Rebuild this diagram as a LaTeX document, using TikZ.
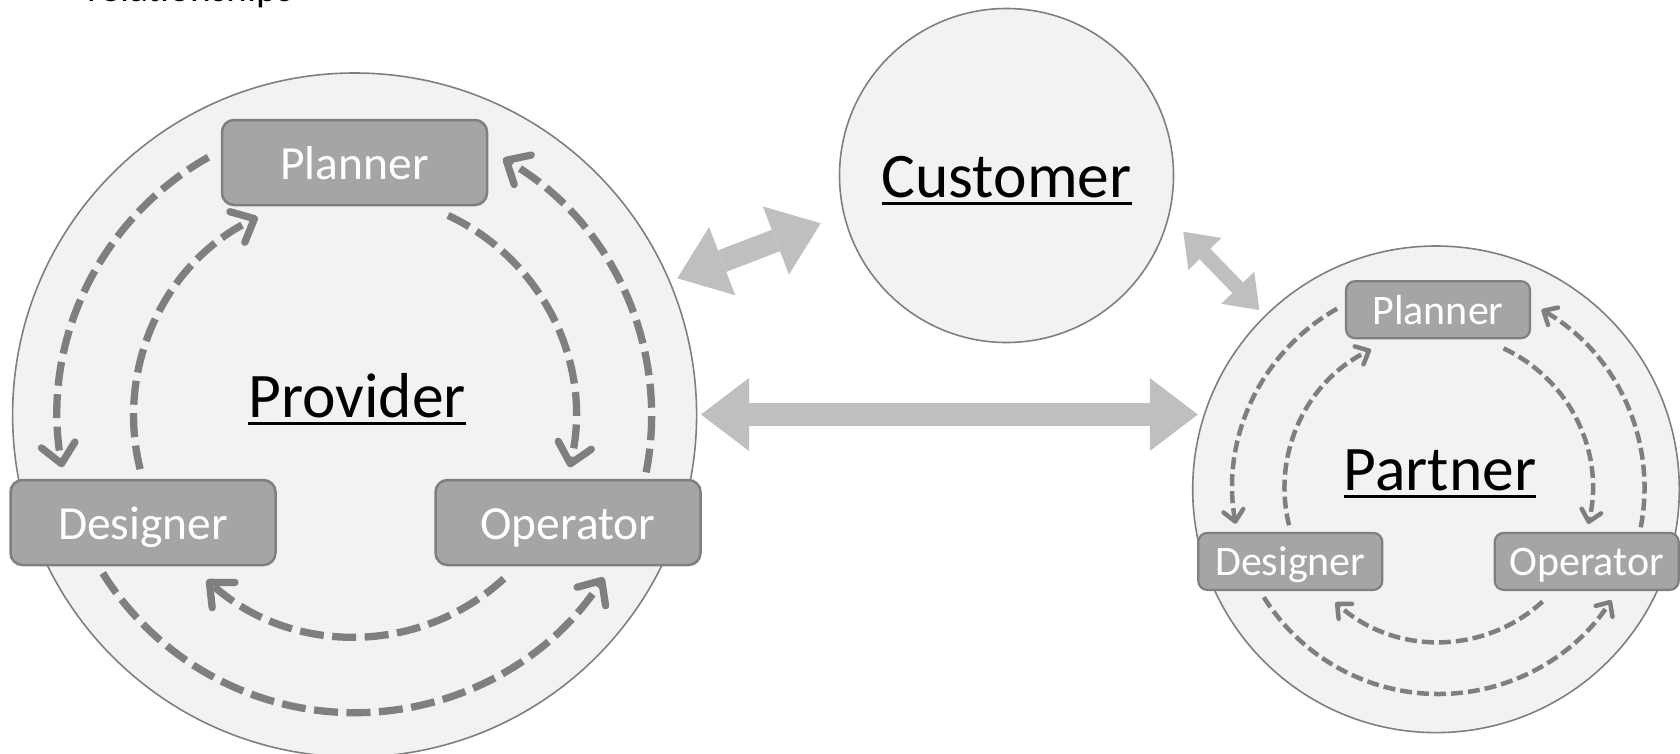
\documentclass[tikz,border=0pt]{standalone}
\usepackage{fontspec}
\setmainfont{Carlito}
\usetikzlibrary{arrows.meta}
\definecolor{circfill}{HTML}{F2F2F2}
\definecolor{circline}{HTML}{7F7F7F}
\definecolor{boxfill}{HTML}{A5A5A5}
\definecolor{boxline}{HTML}{7F7F7F}
\definecolor{dashcol}{HTML}{7F7F7F}
\definecolor{bigarrow}{HTML}{BFBFBF}
\newcommand\myul[1]{\setbox0\hbox{#1}\hbox{\copy0\llap{\rule[-8pt]{\wd0}{3pt}}}}
\tikzset{
  bigcircle/.style={circle, draw=circline, line width=1.6pt, fill=circfill, inner sep=0pt, outer sep=0pt},
  pbox/.style={rectangle, rounded corners=12pt, draw=boxline, line width=2.5pt, fill=boxfill, text=white,
    minimum width=265pt, minimum height=85pt, inner sep=0pt, font=\fontsize{47.5}{57}\selectfont,
    text height=33pt, text depth=0pt},
  sbox/.style={rectangle, rounded corners=9pt, draw=boxline, line width=2.2pt, fill=boxfill, text=white,
    minimum width=184pt, minimum height=57pt, inner sep=0pt, font=\fontsize{42}{50}\selectfont,
    text height=29pt, text depth=0pt},
  biglabel/.style={anchor=base, inner sep=0pt, font=\fontsize{63.5}{76}\selectfont, text=black},
  pdash/.style={draw=dashcol, line width=7.3pt, dash pattern=on 24pt off 8.5pt,
    -{Straight Barb[length=19pt,width=34pt,round]}},
  sdash/.style={draw=dashcol, line width=4.5pt, dash pattern=on 12pt off 5pt,
    -{Straight Barb[length=11pt,width=20pt,round]}},
  widearrow/.style={draw=bigarrow, line width=23pt,
    {Triangle[width=73pt,length=48pt,line width=0pt]}-{Triangle[width=73pt,length=48pt,line width=0pt]}},
  narrowarrow/.style={draw=bigarrow, line width=15pt,
    {Triangle[width=46pt,length=31pt,line width=0pt]}-{Triangle[width=46pt,length=31pt,line width=0pt]}}
}
\begin{document}
\begin{tikzpicture}[x=1pt,y=-1pt]
\useasboundingbox (0,0) rectangle (1680,753);
\clip (0,0) rectangle (1680,753);

% cut-off heading text
\node[anchor=base west, inner sep=0pt, font=\fontsize{39.5}{47}\selectfont] (rel) at (87,1) {relationships};

% circles
\node[bigcircle, minimum size=684pt] (prov) at (354.6,415) {};
\node[bigcircle, minimum size=334pt] (cust) at (1006.5,175.5) {};
\node[bigcircle, minimum size=486.6pt] (part) at (1436,489.3) {};

% labels
\node[biglabel] (provl) at (357,417) {\myul{Provider}};
\node[biglabel] (custl) at (1006.6,197) {\myul{Customer}};
\node[biglabel] (partl) at (1440,490) {\myul{Partner}};

% provider boxes
\node[pbox] (pplan) at (354.5,162.5) {Planner};
\node[pbox] (pdes) at (143,522.5) {Designer};
\node[pbox] (pop) at (568,522.5) {Operator};

% partner boxes
\node[sbox] (splan) at (1438,309.7) {Planner};
\node[sbox] (sdes) at (1290.3,561.4) {Designer};
\node[sbox] (sop) at (1586.7,561.4) {Operator};

% provider dashed arcs
\coordinate (pc) at (354.6,415.7);
\draw[pdash] ([shift={(-119.5:297)}]pc) arc[start angle=-119.5, end angle=-190, radius=297];
\draw[pdash] ([shift={(-194:221)}]pc) arc[start angle=-194, end angle=-116, radius=221];
\draw[pdash] ([shift={(-65:221)}]pc) arc[start angle=-65, end angle=13.5, radius=221];
\draw[pdash] ([shift={(11:297)}]pc) arc[start angle=11, end angle=-60, radius=297];
\draw[pdash] ([shift={(47.5:221)}]pc) arc[start angle=47.5, end angle=132, radius=221];
\draw[pdash] ([shift={(148:297)}]pc) arc[start angle=148, end angle=33, radius=297];

% partner dashed arcs
\coordinate (sc) at (1438.5,488);
\draw[sdash] ([shift={(-119.5:206)}]sc) arc[start angle=-119.5, end angle=-190, radius=206];
\draw[sdash] ([shift={(-194:154)}]sc) arc[start angle=-194, end angle=-116, radius=154];
\draw[sdash] ([shift={(-65:154)}]sc) arc[start angle=-65, end angle=13.5, radius=154];
\draw[sdash] ([shift={(11:206)}]sc) arc[start angle=11, end angle=-60, radius=206];
\draw[sdash] ([shift={(47.5:154)}]sc) arc[start angle=47.5, end angle=132, radius=154];
\draw[sdash] ([shift={(148:206)}]sc) arc[start angle=148, end angle=33, radius=206];

% big connecting arrows
\coordinate (h1) at (701,414.5);
\coordinate (h2) at (1197.8,414.5);
\draw[widearrow] (h1) -- (h2);
\coordinate (pc1) at (677.3,278.3);
\coordinate (pc2) at (820.7,223.3);
\draw[widearrow] (pc1) -- (pc2);
\coordinate (cp1) at (1183.3,231.7);
\coordinate (cp2) at (1259.3,310);
\draw[narrowarrow] (cp1) -- (cp2);
\end{tikzpicture}
\end{document}
